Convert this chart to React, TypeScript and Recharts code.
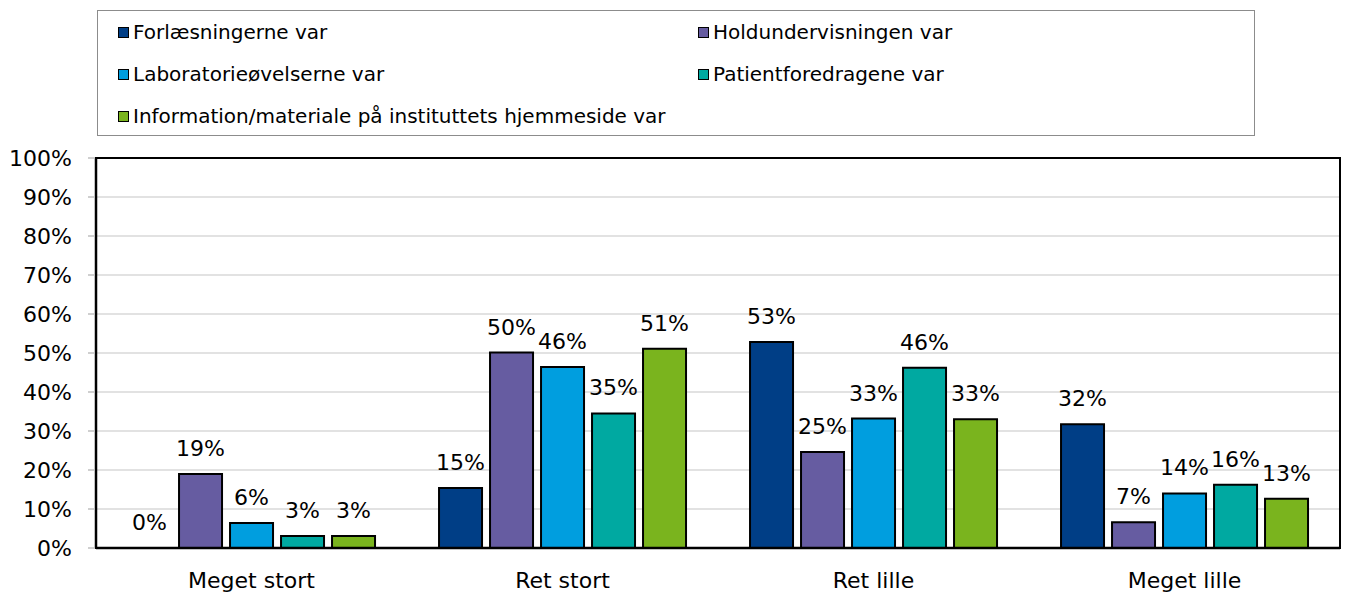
import { ComposedChart, Bar, XAxis, YAxis, CartesianGrid, LabelList } from 'recharts';

const categories = ['Meget stort', 'Ret stort', 'Ret lille', 'Meget lille'];

const seriesNames = [
  'Forlæsningerne var',
  'Holdundervisningen var',
  'Laboratorieøvelserne var',
  'Patientforedragene var',
  'Information/materiale på instituttets hjemmeside var',
];

const forlaesninger = [0, 15.4, 52.8, 31.7];
const holdundervisning = [19.0, 50.1, 24.6, 6.6];
const laboratorie = [6.4, 46.4, 33.2, 14.0];
const patientforedrag = [3.1, 34.5, 46.2, 16.2];
const hjemmeside = [3.1, 51.1, 33.0, 12.6];

const yTicks = [0, 10, 20, 30, 40, 50, 60, 70, 80, 90, 100];

const COLORS = ['#003e86', '#665ca1', '#009edf', '#00a9a1', '#7ab41e'];

const FONT = '"DejaVu Sans", sans-serif';

const seriesValues = [forlaesninger, holdundervisning, laboratorie, patientforedrag, hjemmeside];
const keys = ['s0', 's1', 's2', 's3', 's4'];

const data = categories.map((category, i) => {
  const row: Record<string, string | number> = { category };
  seriesValues.forEach((vals, s) => {
    row[keys[s]] = vals[i];
  });
  return row;
});

// legend rows: two columns, last item alone
const legendPos = [
  { left: 20, top: 10 },
  { left: 600, top: 10 },
  { left: 20, top: 52 },
  { left: 600, top: 52 },
  { left: 20, top: 94 },
];

// value label above each bar, drawn even when the bar has zero height
function ValueLabel(props: any) {
  const { x, y, width, value } = props;
  if (value == null) return null;
  return (
    <text
      x={Number(x) + Number(width) / 2}
      y={Number(y) - 18}
      textAnchor="middle"
      fill="#000"
      fontSize={22}
      fontFamily={FONT}
    >
      {`${Math.round(Number(value))}%`}
    </text>
  );
}

// zero bars get a hairline height so their label is still placed
const zeroMin = (value: any) => (Number(value) === 0 ? 0.01 : 0);

export default function App() {
  return (
    <div
      style={{
        position: 'absolute',
        left: 0,
        top: 0,
        width: 1345,
        height: 595,
        background: '#fff',
        fontFamily: FONT,
      }}
    >
      {/* Legend box */}
      <div
        style={{
          position: 'absolute',
          left: 97,
          top: 10,
          width: 1158,
          height: 126,
          border: '1px solid #8c8c8c',
          boxSizing: 'border-box',
        }}
      >
        {seriesNames.map((name, i) => (
          <div
            key={name}
            style={{
              position: 'absolute',
              left: legendPos[i].left,
              top: legendPos[i].top,
              height: 22,
              display: 'flex',
              alignItems: 'center',
              gap: 4,
              fontSize: 20,
              color: '#000',
              whiteSpace: 'nowrap',
            }}
          >
            <span
              style={{
                display: 'inline-block',
                width: 9,
                height: 9,
                background: COLORS[i],
                border: '1.5px solid #000',
              }}
            />
            <span>{name}</span>
          </div>
        ))}
      </div>

      <ComposedChart
        width={1345}
        height={595}
        data={data}
        margin={{ top: 158, right: 5, bottom: 0, left: 0 }}
        barCategoryGap="10.3%"
        barGap={8}
        style={{ position: 'absolute', left: 0, top: 0 }}
      >
        <CartesianGrid vertical={false} stroke="#d9d9d9" strokeWidth={1.5} />
        <XAxis
          dataKey="category"
          height={47}
          axisLine={{ stroke: '#000', strokeWidth: 2.5 }}
          tickLine={false}
          tickSize={0}
          tickMargin={24}
          tick={{ fill: '#000', fontSize: 22, fontFamily: FONT }}
        />
        <YAxis
          width={96}
          domain={[0, 100]}
          ticks={yTicks}
          interval={0}
          tickFormatter={(v) => `${v}%`}
          axisLine={{ stroke: '#000', strokeWidth: 2.5 }}
          tickLine={{ stroke: '#bfbfbf', strokeWidth: 1.5 }}
          tickSize={8}
          tickMargin={16}
          tick={{ fill: '#000', fontSize: 22, fontFamily: FONT }}
        />
        {keys.map((k, i) => (
          <Bar
            key={k}
            dataKey={k}
            name={seriesNames[i]}
            fill={COLORS[i]}
            stroke="#000"
            strokeWidth={2}
            minPointSize={zeroMin}
            isAnimationActive={false}
          >
            <LabelList dataKey={k} content={ValueLabel} />
          </Bar>
        ))}
      </ComposedChart>

      {/* plot frame */}
      <div
        style={{
          position: 'absolute',
          left: 95,
          top: 157,
          width: 1246,
          height: 392,
          border: '2.5px solid #000',
          boxSizing: 'border-box',
          pointerEvents: 'none',
        }}
      />
    </div>
  );
}
